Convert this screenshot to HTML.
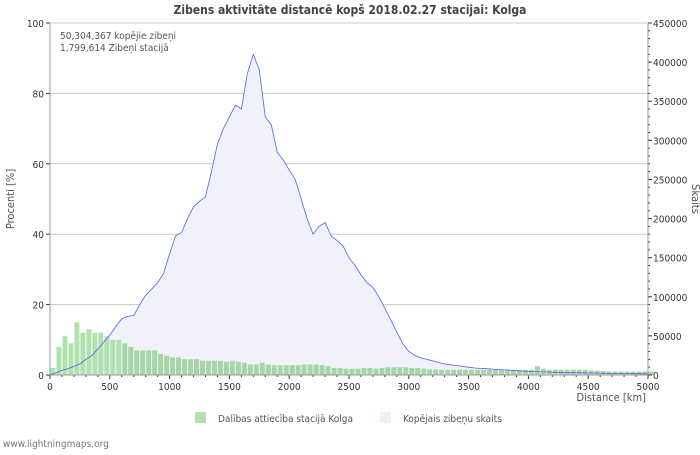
<!DOCTYPE html>
<html><head><meta charset="utf-8"><style>
body{margin:0;background:#fff;font-family:"Liberation Sans",sans-serif}
svg text{font-family:"DejaVu Sans Condensed","DejaVu Sans","Liberation Sans",sans-serif}
</style></head><body>
<svg id="c" width="700" height="450" xmlns="http://www.w3.org/2000/svg">
<rect width="700" height="450" fill="#fff"/>
<text x="350" y="14" text-anchor="middle" font-size="12" font-weight="bold" fill="#444">Zibens aktivitāte distancē kopš 2018.02.27 stacijai: Kolga</text>
<g id="grid"></g>
<g id="area"></g>
<g id="bars"></g>
<g id="lineg"></g>
<g id="axes"></g>
<text x="60" y="39" font-size="10" fill="#555">50,304,367 kopējie zibeņi</text>
<text x="60" y="51" font-size="10" fill="#555">1,799,614 Zibeņi stacijā</text>
<text x="14" y="199" font-size="11" fill="#555" text-anchor="middle" transform="rotate(-90 14 199)">Procenti   [%]</text>
<text x="692" y="199" font-size="11" fill="#555" text-anchor="middle" transform="rotate(90 692 199)">Skaits</text>
<text x="646" y="401" font-size="11" fill="#555" text-anchor="end">Distance   [km]</text>
<rect x="195" y="412" width="11" height="11" fill="#b4e0b4"/>
<text x="218" y="422" font-size="10" fill="#555">Dalības attiecība stacijā Kolga</text>
<rect x="380" y="412" width="11" height="11" fill="#eeeefc"/>
<text x="403" y="422" font-size="10" fill="#555">Kopējais zibeņu skaits</text>
<text x="3" y="447" font-size="10" fill="#777">www.lightningmaps.org</text>
</svg>
<script>
const distances = [];
for (let d = 0; d <= 5000; d += 50) distances.push(d);
const counts = [0,3,6,8,11,14,20,25,33,42,51,62,72,75,76,90,102,110,118,130,155,178,182,200,215,222,228,260,295,315,330,345,340,385,410,390,330,320,285,275,262,250,225,200,180,190,195,178,172,165,150,140,128,118,112,100,85,70,55,40,30,25,22,20,18,16,14,13,12,11,10,9,8.5,8,7.5,7,6.5,6,5.5,5,4.5,4.5,4,4,3.5,3.5,3,3,3,2.8,2.6,2.5,2.4,2.2,2,2,1.8,1.8,1.6,1.5,1.5];
const percents = [2,8,11,9,15,12,13,12,12,11,10,10,9,8,7,7,7,7,6,5.5,5,5,4.5,4.5,4.5,4,4,4,4,3.8,4,3.8,3.5,3,3,3.5,3,2.8,2.8,2.8,2.8,2.8,3,3,3,2.8,2.5,2,2,1.8,1.8,1.8,2,2,1.8,2,2.2,2.2,2.2,2.2,2,2,1.8,1.6,1.6,1.5,1.5,1.5,1.5,1.5,1.5,1.5,1.5,1.5,1.5,1.5,1.5,1.5,1.5,1.5,1.5,2.5,1.8,1.5,1.5,1.5,1.5,1.5,1.5,1.5,1.3,1.2,1.1,1,1,1,1,1,1,1,1];
const xTicks = [0,500,1000,1500,2000,2500,3000,3500,4000,4500,5000];
const yTicks = [0,20,40,60,80,100];
const rTicks = [0,50000,100000,150000,200000,250000,300000,350000,400000,450000];
const X0=50,X1=648,Y0=375,Y1=23;
const xs=d=>X0+(X1-X0)*d/5000;
const yp=p=>Y0-(Y0-Y1)*p/100;
const yc=c=>Y0-(Y0-Y1)*c/450000;
const NS='http://www.w3.org/2000/svg';
function mk(t,a,p){const e=document.createElementNS(NS,t);for(const k in a)e.setAttribute(k,a[k]);p.appendChild(e);return e;}
const grid=document.getElementById('grid'),axes=document.getElementById('axes'),bars=document.getElementById('bars'),area=document.getElementById('area'),lineg=document.getElementById('lineg');
yTicks.forEach(v=>{
  if(v>0){const l=mk('line',{x1:X0,x2:X1,y1:yp(v),y2:yp(v),stroke:'#c8c8c8'},grid);
  
  }
  const t=mk('text',{x:X0-6,y:yp(v)+4,'text-anchor':'end','font-size':10,fill:'#333'},axes);t.textContent=v;
  
  
  mk('line',{x1:X0-4,x2:X0,y1:yp(v),y2:yp(v),stroke:'#333'},axes);
});
rTicks.forEach(v=>{
  const t=mk('text',{x:X1+5,y:yc(v)+4,'font-size':10,fill:'#333'},axes);t.textContent=v;
  
  
  mk('line',{x1:X1,x2:X1+4,y1:yc(v),y2:yc(v),stroke:'#333'},axes);
});
for(let v=0;v<=450000;v+=10000) mk('line',{x1:X1,x2:X1+2,y1:yc(v),y2:yc(v),stroke:'#333'},axes);
xTicks.forEach(v=>{
  const t=mk('text',{x:xs(v),y:390,'text-anchor':'middle','font-size':10,fill:'#333'},axes);t.textContent=v;
  
  
});
for(let v=0;v<=5000;v+=100) mk('line',{x1:xs(v),x2:xs(v),y1:Y0,y2:Y0+(v%500?2:4),stroke:'#333'},axes);
mk('line',{x1:X0,x2:X0,y1:Y1,y2:Y0,stroke:'#999'},axes);
mk('line',{x1:X1,x2:X1,y1:Y1,y2:Y0,stroke:'#999'},axes);
mk('line',{x1:X0,x2:X1,y1:Y0,y2:Y0,stroke:'#999'},axes);
mk('line',{x1:X0,x2:X1,y1:Y1,y2:Y1,stroke:'#ccc'},axes);
const bw=xs(50)-xs(0);
percents.forEach((p,i)=>{
  const r=mk('rect',{x:xs(distances[i])+0.5,y:yp(p),width:bw-1,height:Y0-yp(p),fill:i<12?'#b0e2b0':'#a6d6a6'},bars);
  
  
});
let pts=counts.map((c,i)=>xs(distances[i]).toFixed(1)+','+yc(c*1000).toFixed(1));
const poly=mk('polygon',{points:xs(0)+','+Y0+' '+pts.join(' ')+' '+xs(5000)+','+Y0,fill:'#f1f1fc'},area);


const line=mk('polyline',{points:pts.join(' '),fill:'none',stroke:'#5560ee','stroke-width':0.8},lineg);


</script>
</body></html>
